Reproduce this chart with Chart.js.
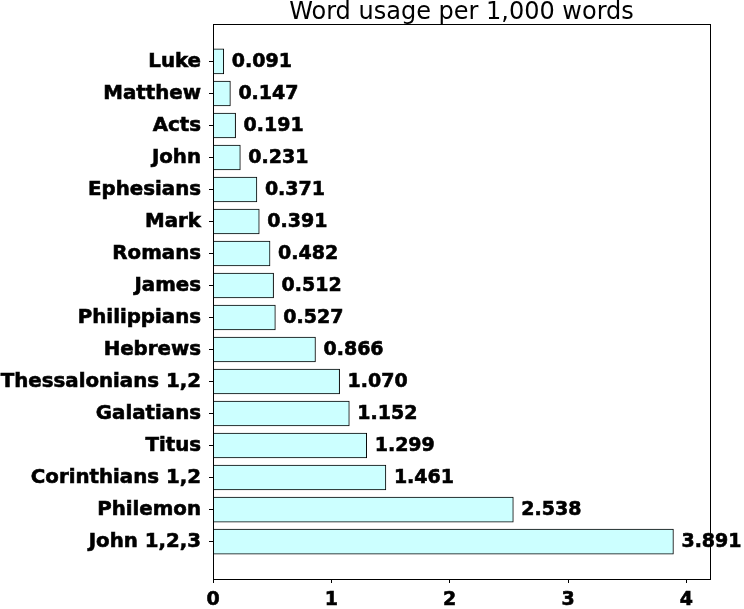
<!DOCTYPE html>
<html>
<head>
<meta charset="utf-8">
<script src="https://cdn.jsdelivr.net/npm/chart.js@4/dist/chart.umd.min.js"></script>
<style>
  html, body { margin: 0; padding: 0; background: #fff; }
  #c { display: block; }
</style>
</head>
<body>
<canvas id="c" width="744" height="609"></canvas>
<script>
// Books of the New Testament, top to bottom
const books = [
  'Luke', 'Matthew', 'Acts', 'John', 'Ephesians', 'Mark', 'Romans', 'James',
  'Philippians', 'Hebrews', 'Thessalonians 1,2', 'Galatians', 'Titus',
  'Corinthians 1,2', 'Philemon', 'John 1,2,3'
];
// Occurrences per 1,000 words
const usage = [
  0.091, 0.147, 0.191, 0.231, 0.371, 0.391, 0.482, 0.512,
  0.527, 0.866, 1.070, 1.152, 1.299, 1.461, 2.538, 3.891
];
const xTicks = [0, 1, 2, 3, 4];
const chartTitle = 'Word usage per 1,000 words';

const FONT = "'DejaVu Sans', Verdana, sans-serif";
const HEAVY = 0.6; // extra stroke that thickens the bold labels

// Frame around the plotting area and the title above it
const framePlugin = {
  id: 'frame',
  afterDraw(chart) {
    const { ctx, chartArea: a } = chart;
    ctx.save();
    ctx.strokeStyle = '#000';
    ctx.lineWidth = 1;
    ctx.strokeRect(Math.round(a.left) + 0.5, Math.round(a.top) + 0.5,
                   Math.round(a.right - a.left), Math.round(a.bottom - a.top));
    ctx.font = '24px ' + FONT;
    ctx.fillStyle = '#000';
    ctx.textAlign = 'center';
    ctx.textBaseline = 'alphabetic';
    ctx.fillText(chartTitle, (a.left + a.right) / 2, a.top - 5);
    ctx.restore();
  }
};

// Value printed to the right of each bar
const valueLabels = {
  id: 'valueLabels',
  afterDatasetsDraw(chart) {
    const { ctx } = chart;
    const meta = chart.getDatasetMeta(0);
    ctx.save();
    ctx.font = 'bold 19px ' + FONT;
    ctx.fillStyle = '#000';
    ctx.strokeStyle = '#000';
    ctx.lineWidth = HEAVY;
    ctx.textAlign = 'left';
    ctx.textBaseline = 'middle';
    meta.data.forEach((bar, i) => {
      const txt = usage[i].toFixed(3);
      ctx.fillText(txt, bar.x + 8, bar.y + 1);
      ctx.strokeText(txt, bar.x + 8, bar.y + 1);
    });
    ctx.restore();
  }
};

new Chart(document.getElementById('c'), {
  type: 'bar',
  data: {
    datasets: [{
      data: usage.map((v, i) => ({ x: v, y: i })),
      backgroundColor: '#ccffff',
      borderColor: '#000',
      borderWidth: 1,
      barThickness: 25
    }]
  },
  options: {
    indexAxis: 'y',
    responsive: false,
    animation: false,
    layout: { padding: { left: 0, right: 34, top: 24, bottom: 0 } },
    plugins: {
      legend: { display: false },
      tooltip: { enabled: false },
      title: { display: false }
    },
    scales: {
      x: {
        type: 'linear',
        min: 0,
        max: 4.2,
        bounds: 'data',
        offset: false,
        grid: { offset: false, drawOnChartArea: false, drawTicks: true, tickLength: 4, color: '#000' },
        border: { display: true, color: '#000' },
        ticks: {
          stepSize: 1,
          color: '#000',
          padding: 6,
          textStrokeColor: '#000',
          textStrokeWidth: HEAVY,
          font: { family: FONT, size: 19, weight: 'bold' }
        },
        afterBuildTicks(scale) { scale.ticks = xTicks.map(v => ({ value: v })); },
        afterFit(scale) { scale.height = 30; }
      },
      y: {
        type: 'linear',
        reverse: true,
        min: -1.17,
        max: 16.17,
        bounds: 'data',
        offset: false,
        grid: { offset: false, drawOnChartArea: false, drawTicks: true, tickLength: 4, color: '#000' },
        border: { display: true, color: '#000' },
        ticks: {
          stepSize: 1,
          color: '#000',
          padding: 8,
          textStrokeColor: '#000',
          textStrokeWidth: HEAVY,
          font: { family: FONT, size: 19.8, weight: 'bold' },
          callback: (v) => books[v]
        },
        afterBuildTicks(scale) { scale.ticks = books.map((_, i) => ({ value: i })); },
        afterFit(scale) { scale.width = 213; }
      }
    }
  },
  plugins: [framePlugin, valueLabels]
});
</script>
</body>
</html>
